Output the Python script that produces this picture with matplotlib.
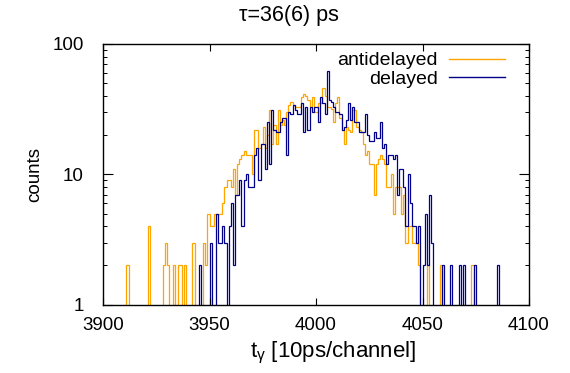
import numpy as np
import matplotlib
matplotlib.use("Agg")
import matplotlib.pyplot as plt
from matplotlib.lines import Line2D

plt.rcParams['font.family'] = ['Liberation Sans', 'DejaVu Sans']
plt.rcParams['font.size'] = 13.5

# premier canal des deux histogrammes
premier_canal = 3905

# comptages par canal (antidelayed)
antidelayed = [
    0, 0, 0, 0, 0, 0, 2, 0, 0, 0,           # 3905-3914
    0, 0, 0, 0, 0, 0, 4, 0, 0, 0,           # 3915-3924
    0, 0, 0, 2, 3, 2, 0, 0, 2, 0,           # 3925-3934
    2, 2, 0, 2, 0, 0, 0, 3, 0, 0,           # 3935-3944
    0, 0, 3, 2, 5, 4, 4, 5, 5, 5,           # 3945-3954
    5, 6, 8, 9, 9, 8, 11, 7, 12, 13,        # 3955-3964
    14, 15, 14, 14, 14, 10, 22, 22, 16, 17, # 3965-3974
    23, 16, 20, 31, 17, 24, 17, 31, 24, 26, # 3975-3984
    24, 30, 34, 36, 34, 33, 33, 33, 39, 41, # 3985-3994
    40, 37, 33, 39, 30, 30, 35, 35, 46, 40, # 3995-4004
    33, 33, 32, 25, 35, 39, 27, 22, 17, 23, # 4005-4014
    22, 21, 31, 31, 23, 22, 21, 17, 14, 15, # 4015-4024
    12, 12, 7, 12, 13, 14, 13, 12, 8, 8,    # 4025-4034
    10, 5, 8, 8, 8, 5, 7, 3, 4, 4,          # 4035-4044
    3, 3, 3, 2, 0, 0, 0, 2, 0, 0,           # 4045-4054
    0, 0, 0, 2, 0, 0, 0, 0, 0, 0,           # 4055-4064
    0, 0, 0, 0, 0, 0, 0, 0, 2, 0,           # 4065-4074
    0, 0, 0, 0, 0, 0, 0, 0, 0, 0,           # 4075-4084
    0, 0, 0, 0, 0, 0,                       # 4085-4090
]

# comptages par canal (delayed)
delayed = [
    0, 0, 0, 0, 0, 0, 0, 0, 0, 0,           # 3905-3914
    0, 0, 0, 0, 0, 0, 0, 0, 0, 0,           # 3915-3924
    0, 0, 0, 0, 0, 0, 0, 0, 0, 0,           # 3925-3934
    0, 0, 0, 0, 0, 0, 0, 0, 0, 0,           # 3935-3944
    2, 0, 0, 0, 0, 3, 0, 0, 5, 3,           # 3945-3954
    3, 4, 3, 0, 4, 6, 2, 7, 7, 9,           # 3955-3964
    4, 9, 10, 8, 8, 8, 14, 16, 9, 17,       # 3965-3974
    17, 11, 25, 12, 31, 22, 21, 21, 25, 27, # 3975-3984
    27, 14, 30, 29, 34, 31, 29, 29, 35, 21, # 3985-3994
    33, 22, 33, 30, 33, 33, 25, 39, 35, 29, # 3995-4004
    62, 37, 36, 33, 30, 30, 29, 22, 23, 26, # 4005-4014
    35, 26, 33, 25, 25, 21, 21, 21, 29, 20, # 4015-4024
    18, 18, 21, 19, 19, 25, 16, 17, 12, 14, # 4025-4034
    14, 13, 14, 7, 11, 11, 8, 4, 10, 6,     # 4035-4044
    4, 4, 3, 4, 0, 2, 5, 2, 7, 3,           # 4045-4054
    0, 0, 0, 0, 2, 0, 0, 0, 2, 0,           # 4055-4064
    0, 0, 2, 0, 2, 0, 0, 0, 0, 2,           # 4065-4074
    0, 0, 0, 0, 0, 0, 0, 0, 0, 0,           # 4075-4084
    2, 0, 0, 0, 0, 0,                       # 4085-4090
]

couleur_anti = '#ffa500'
couleur_del = '#00008b'

fig = plt.figure(figsize=(5.7, 3.73), dpi=100)
ax = fig.add_axes([103 / 570, 1 - 304.7 / 373, (529 - 103) / 570, (304.7 - 44) / 373])

for valeurs, couleur in [(antidelayed, couleur_anti), (delayed, couleur_del)]:
    v = np.array(valeurs, dtype=float)
    bords = np.arange(premier_canal, premier_canal + len(v) + 1)
    # les canaux vides descendent sous l'axe (échelle log)
    v = np.where(v > 0, v, 0.3)
    ax.stairs(v, bords, baseline=None, color=couleur, linewidth=0.9)

ax.set_yscale('log')
ax.set_xlim(3900, 4100)
ax.set_ylim(1, 100)
ax.set_xticks([3900, 3950, 4000, 4050, 4100])
ax.set_yticks([1, 10, 100])
ax.set_yticklabels(['1', '10', '100'])
ax.tick_params(which='major', direction='in', top=True, right=True, length=5, width=0.8)
ax.tick_params(which='minor', direction='in', right=True, length=3, width=0.7)
ax.tick_params(axis='y', which='major', length=7, pad=14)
ax.tick_params(axis='x', pad=9)
ax.xaxis.set_minor_locator(matplotlib.ticker.NullLocator())
for s in ax.spines.values():
    s.set_linewidth(1.0)

fig.text(289 / 570, 1 - 15 / 373, 'τ=36(6) ps', ha='center', va='center', fontsize=15.5)
fig.text(333 / 570, 1 - 353 / 373, r't$_\mathregular{γ}$ [10ps/channel]', ha='center', va='center', fontsize=16)
fig.text(35 / 570, 1 - 175 / 373, 'counts', ha='center', va='center', rotation=90)

poignees = [Line2D([], [], color=couleur_anti, linewidth=1.0),
            Line2D([], [], color=couleur_del, linewidth=1.0)]
ax.legend(poignees, ['antidelayed', 'delayed'], loc='upper right', frameon=False,
          markerfirst=False, handlelength=2.9, handletextpad=0.55, labelspacing=0.05,
          borderaxespad=0.0, bbox_to_anchor=(0.962, 1.0), fontsize=14)

fig.savefig('out.png', dpi=100)
